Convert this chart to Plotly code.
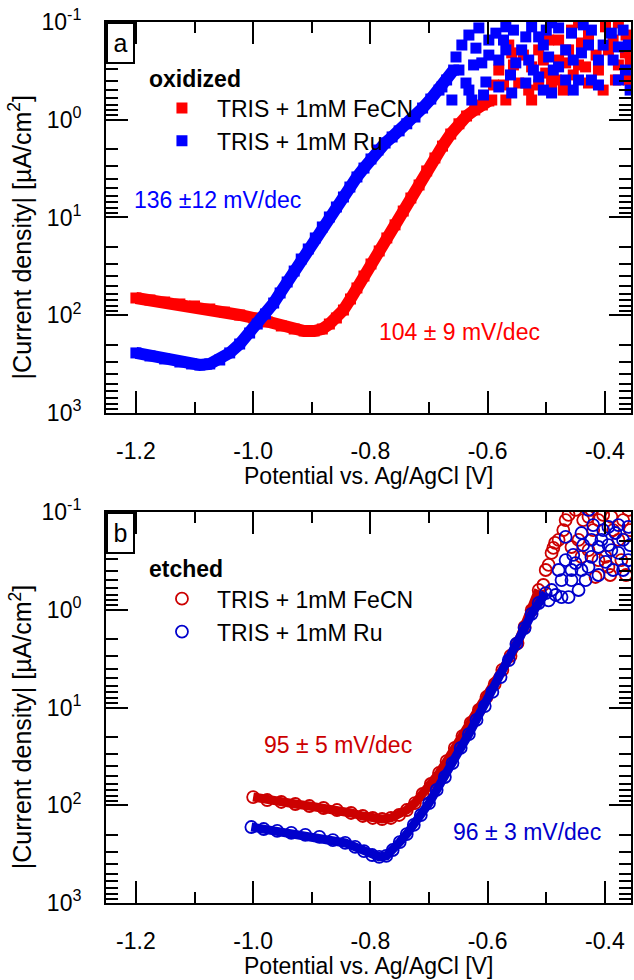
import plotly.graph_objects as go

# ---------------- data ----------------
# panel a: oxidized, smooth part of the sweep
ox_fecn_v = [-1.200, -1.176, -1.151, -1.125, -1.100, -1.074, -1.049, -1.023, -0.999, -0.976,
             -0.952, -0.930, -0.913, -0.896, -0.882, -0.870, -0.858, -0.846, -0.834, -0.823,
             -0.811, -0.799, -0.785, -0.772, -0.758, -0.744, -0.731, -0.717, -0.704, -0.690,
             -0.677, -0.663, -0.649, -0.636, -0.622, -0.609, -0.598]
ox_fecn_j = [66.6, 69.8, 73.2, 76.7, 80.4, 86.3, 92.7, 99.4, 106.7, 117.2,
             128.8, 138.3, 144.9, 144.9, 138.3, 123.0, 106.7, 88.4, 68.2, 52.6,
             39.7, 29.9, 22.0, 16.2, 11.9, 8.59, 6.32, 4.65, 3.34, 2.46,
             1.86, 1.40, 1.10, 0.916, 0.794, 0.706, 0.643]
# panel a: oxidized, noisy high-current part
ox_fecn_hv = [-0.559, -0.525, -0.501, -0.479, -0.457, -0.440, -0.428, -0.411, -0.399, -0.382,
              -0.365, -0.581, -0.569, -0.525, -0.491, -0.445, -0.377, -0.593, -0.547, -0.513,
              -0.433, -0.360, -0.394, -0.467,
              -0.590, -0.573, -0.556, -0.539, -0.530, -0.505, -0.496, -0.483, -0.471, -0.462,
              -0.445, -0.428, -0.415, -0.403, -0.386, -0.377, -0.364, -0.357, -0.454, -0.513,
              -0.564, -0.479]
ox_fecn_hj = [0.207, 0.288, 0.333, 0.153, 0.121, 0.164, 0.421, 0.310, 0.112, 0.392,
              0.207, 0.310, 0.628, 0.628, 0.421, 0.102, 0.102, 0.628, 0.421, 0.193,
              0.288, 0.392, 0.193, 0.262,
              0.441, 0.441, 0.275, 0.218, 0.497, 0.245, 0.153, 0.392, 0.497, 0.193,
              0.275, 0.136, 0.218, 0.497, 0.153, 0.275, 0.136, 0.245, 0.348, 0.441,
              0.172, 0.245]

ox_ru_v = [-1.200, -1.176, -1.151, -1.125, -1.105, -1.091, -1.074, -1.057, -1.040, -1.023,
           -1.006, -0.993, -0.979, -0.965, -0.954, -0.942, -0.930, -0.918, -0.906, -0.894,
           -0.882, -0.870, -0.858, -0.846, -0.835, -0.823, -0.811, -0.799, -0.787, -0.775,
           -0.763, -0.751, -0.738, -0.724, -0.711, -0.697, -0.683, -0.670, -0.658]
ox_ru_j = [243, 261, 280, 301, 315, 323, 315, 287, 243, 197,
           152, 123, 97.1, 75.0, 59.2, 45.7, 35.3, 26.6, 21.0, 16.2,
           12.5, 9.88, 7.81, 6.17, 4.88, 3.85, 3.12, 2.52, 2.04, 1.73,
           1.50, 1.30, 1.10, 0.938, 0.759, 0.614, 0.497, 0.392, 0.310]
ox_ru_hv = [-0.586, -0.569, -0.525, -0.491, -0.620, -0.654, -0.649, -0.610, -0.581, -0.569,
            -0.552, -0.603, -0.581, -0.559, -0.535, -0.513, -0.491, -0.479, -0.467, -0.457,
            -0.440, -0.423, -0.411, -0.389, -0.377, -0.365, -0.445, -0.423, -0.467, -0.496,
            -0.513, -0.637, -0.661, -0.627, -0.678, -0.535,
            -0.644, -0.632, -0.615, -0.598, -0.573, -0.556, -0.542, -0.530, -0.505, -0.500,
            -0.479, -0.454, -0.437, -0.428, -0.403, -0.386, -0.369, -0.360, -0.598, -0.624,
            -0.561, -0.522, -0.488, -0.411, -0.377, -0.357, -0.505, -0.632, -0.607, -0.454]
ox_ru_hj = [0.130, 0.112, 0.112, 0.102, 0.185, 0.228, 0.310, 0.262, 0.245, 0.193,
            0.262, 0.411, 0.462, 0.532, 0.421, 0.365, 0.532, 0.288, 0.193, 0.130,
            0.207, 0.121, 0.245, 0.130, 0.180, 0.310, 0.392, 0.392, 0.392, 0.228,
            0.142, 0.421, 0.628, 0.628, 0.462, 0.142,
            0.172, 0.136, 0.115, 0.153, 0.153, 0.121, 0.193, 0.245, 0.172, 0.121,
            0.115, 0.245, 0.107, 0.172, 0.172, 0.245, 0.121, 0.172, 0.218, 0.275,
            0.348, 0.310, 0.310, 0.441, 0.392, 0.497, 0.497, 0.497, 0.558, 0.497]

# panel b: etched
et_fecn_v = [-1.000, -0.976, -0.952, -0.928, -0.904, -0.880, -0.857, -0.833, -0.813, -0.796,
             -0.780, -0.765, -0.751, -0.738, -0.724, -0.711, -0.697, -0.683, -0.670, -0.656,
             -0.643, -0.629, -0.615, -0.602, -0.588, -0.575, -0.561, -0.549, -0.537, -0.525,
             -0.513]
et_fecn_j = [82.4, 88.4, 92.6, 97.1, 101.8, 106.7, 111.9, 120.0, 128.8, 135.0,
             138.3, 135.0, 125.8, 111.9, 94.9, 76.7, 60.6, 46.8, 35.3, 25.9,
             19.6, 14.4, 10.6, 7.81, 5.75, 4.13, 2.97, 2.19, 1.50, 1.01,
             0.628]
et_fecn_hv = [-0.501, -0.491, -0.479, -0.485, -0.467, -0.450, -0.428, -0.416, -0.399, -0.389,
              -0.377, -0.360, -0.457, -0.423, -0.411, -0.394, -0.372, -0.440,
              -0.505, -0.496, -0.488, -0.471, -0.462, -0.437, -0.420, -0.403, -0.386, -0.369,
              -0.357, -0.411, -0.391, -0.364, -0.445, -0.428]
et_fecn_hj = [0.392, 0.262, 0.193, 0.207, 0.121, 0.095, 0.112, 0.462, 0.288, 0.112,
              0.193, 0.095, 0.228, 0.095, 0.121, 0.365, 0.310, 0.288,
              0.558, 0.348, 0.233, 0.153, 0.107, 0.121, 0.153, 0.107, 0.153, 0.121,
              0.153, 0.310, 0.441, 0.441, 0.193, 0.245]

et_ru_v = [-1.003, -0.982, -0.959, -0.935, -0.911, -0.887, -0.864, -0.843, -0.826, -0.811,
           -0.797, -0.785, -0.773, -0.762, -0.750, -0.738, -0.726, -0.714, -0.700, -0.687,
           -0.673, -0.660, -0.646, -0.632, -0.619, -0.605, -0.592, -0.578, -0.564, -0.551,
           -0.537, -0.525, -0.513, -0.501]
et_ru_j = [167, 175, 183, 192, 201, 211, 227, 243, 267, 294,
           323, 338, 330, 287, 238, 197, 159, 126, 94.9, 69.8,
           51.4, 37.0, 25.9, 18.7, 13.4, 9.66, 6.93, 4.88, 3.27, 2.24,
           1.54, 1.10, 0.853, 0.675]
et_ru_hv = [-0.474, -0.462, -0.491, -0.474, -0.457, -0.467, -0.440, -0.428, -0.423, -0.467,
            -0.440, -0.423, -0.406, -0.394, -0.389, -0.377, -0.369, -0.360, -0.382, -0.428,
            -0.360, -0.450, -0.411, -0.399, -0.433, -0.457,
            -0.496, -0.484, -0.454, -0.437, -0.420, -0.403, -0.377, -0.357, -0.386, -0.411,
            -0.479, -0.445, -0.394, -0.369]
et_ru_hj = [0.742, 0.742, 0.628, 0.497, 0.392, 0.310, 0.392, 0.365, 0.288, 0.180,
            0.164, 0.193, 0.193, 0.142, 0.245, 0.262, 0.392, 0.310, 0.164, 0.095,
            0.142, 0.333, 0.228, 0.324, 0.497, 0.497,
            0.800, 0.706, 0.275, 0.218, 0.136, 0.153, 0.136, 0.218, 0.392, 0.441,
            0.392, 0.628, 0.218, 0.193]

series_names = ["TRIS + 1mM FeCN", "TRIS + 1mM Ru"]
legend_titles = ["oxidized", "etched"]
slope_labels = ["136 ±12 mV/dec", "104 ± 9 mV/dec", "95 ± 5 mV/dec", "96 ± 3 mV/dec"]
y_tickvals = [0.1, 1, 10, 100, 1000]
y_ticktext = ["10<sup>-1</sup>", "10<sup>0</sup>", "10<sup>1</sup>", "10<sup>2</sup>", "10<sup>3</sup>"]
x_tickvals = [-1.2, -1.0, -0.8, -0.6, -0.4]
x_ticktext = ["-1.2", "-1.0", "-0.8", "-0.6", "-0.4"]

# ---------------- style ----------------
FONT = "Liberation Sans, Arial, sans-serif"
RED_A, BLUE_A = "#FF0000", "#0000FF"
RED_B, BLUE_B = "#CC0000", "#0000CC"

fig = go.Figure()

# panel a
fig.add_trace(go.Scatter(x=ox_fecn_v, y=ox_fecn_j, mode="lines+markers", showlegend=False,
                         line=dict(color=RED_A, width=12),
                         marker=dict(symbol="square", size=11, color=RED_A),
                         xaxis="x", yaxis="y"))
fig.add_trace(go.Scatter(x=ox_fecn_hv, y=ox_fecn_hj, mode="markers", name=series_names[0],
                         marker=dict(symbol="square", size=11, color=RED_A),
                         xaxis="x", yaxis="y", legend="legend"))
fig.add_trace(go.Scatter(x=ox_ru_v, y=ox_ru_j, mode="lines+markers", showlegend=False,
                         line=dict(color=BLUE_A, width=12),
                         marker=dict(symbol="square", size=11, color=BLUE_A),
                         xaxis="x", yaxis="y"))
fig.add_trace(go.Scatter(x=ox_ru_hv, y=ox_ru_hj, mode="markers", name=series_names[1],
                         marker=dict(symbol="square", size=11, color=BLUE_A),
                         xaxis="x", yaxis="y", legend="legend"))

# panel b
circ = dict(symbol="circle-open", size=12)
fig.add_trace(go.Scatter(x=et_fecn_v, y=et_fecn_j, mode="lines+markers", showlegend=False,
                         line=dict(color=RED_B, width=9),
                         marker=dict(**circ, color=RED_B, line=dict(width=1.8)),
                         xaxis="x2", yaxis="y2"))
fig.add_trace(go.Scatter(x=et_fecn_hv, y=et_fecn_hj, mode="markers", name=series_names[0],
                         marker=dict(**circ, color=RED_B, line=dict(width=1.8)),
                         xaxis="x2", yaxis="y2", legend="legend2"))
fig.add_trace(go.Scatter(x=et_ru_v, y=et_ru_j, mode="lines+markers", showlegend=False,
                         line=dict(color=BLUE_B, width=9),
                         marker=dict(**circ, color=BLUE_B, line=dict(width=1.8)),
                         xaxis="x2", yaxis="y2"))
fig.add_trace(go.Scatter(x=et_ru_hv, y=et_ru_hj, mode="markers", name=series_names[1],
                         marker=dict(**circ, color=BLUE_B, line=dict(width=1.8)),
                         xaxis="x2", yaxis="y2", legend="legend2"))

minor_y = [m * 10 ** e for e in range(-1, 3) for m in range(2, 10)]

def xaxis_style(anchor):
    return dict(anchor=anchor, domain=[0, 1], range=[-1.251, -0.3555],
                tickmode="array", tickvals=x_tickvals, ticktext=x_ticktext,
                ticks="inside", ticklen=22, tickwidth=2, tickcolor="black",
                showline=True, linewidth=2, linecolor="black", mirror="ticks",
                showgrid=False, zeroline=False, ticklabelstandoff=16,
                minor=dict(dtick=0.1, tick0=-1.1, ticks="inside", ticklen=11,
                           tickwidth=2, tickcolor="black", showgrid=False),
                tickfont=dict(family=FONT, size=23, color="black"))

def yaxis_style(anchor, domain):
    return dict(anchor=anchor, domain=domain, type="log", range=[3, -1],
                tickmode="array", tickvals=y_tickvals, ticktext=y_ticktext,
                ticks="inside", ticklen=22, tickwidth=2, tickcolor="black",
                showline=True, linewidth=2, linecolor="black", mirror="ticks",
                showgrid=False, zeroline=False, ticklabelstandoff=18,
                minor=dict(tickvals=minor_y, ticks="inside", ticklen=12,
                           tickwidth=2, tickcolor="black", showgrid=False),
                tickfont=dict(family=FONT, size=23, color="black"))

leg_common = dict(xanchor="left", yanchor="top", bgcolor="rgba(0,0,0,0)",
                  font=dict(family=FONT, size=23, color="black"),
                  itemwidth=60, tracegroupgap=0)

fig.update_layout(
    width=634, height=980,
    margin=dict(l=106, r=1, t=22, b=77),
    paper_bgcolor="white", plot_bgcolor="white",
    font=dict(family=FONT, size=23, color="black"),
    xaxis=xaxis_style("y"),
    yaxis=yaxis_style("x", [0.5562, 1]),
    xaxis2=xaxis_style("y2"),
    yaxis2=yaxis_style("x2", [0, 0.4438]),
    legend=dict(x=0.078, y=0.9607, title=dict(text="<b>" + legend_titles[0] + "</b>",
                font=dict(family=FONT, size=23, color="black")), **leg_common),
    legend2=dict(x=0.078, y=0.4037, title=dict(text="<b>" + legend_titles[1] + "</b>",
                 font=dict(family=FONT, size=23, color="black")), **leg_common),
)

ann = []
# panel letters in boxes
for letter, xr, yr in [("a", "x domain", "y domain"), ("b", "x2 domain", "y2 domain")]:
    ann.append(dict(text=letter, xref=xr, yref=yr, x=0, y=1, xanchor="left", yanchor="top",
                    showarrow=False, bordercolor="black", borderwidth=2, borderpad=0,
                    bgcolor="white", width=25, height=38,
                    font=dict(family=FONT, size=25, color="black")))
# slope labels
for txt, xr, yr, xx, yy, col in [
        (slope_labels[0], "x domain", "y domain", 0.049, 0.545, BLUE_A),
        (slope_labels[1], "x domain", "y domain", 0.516, 0.207, RED_A),
        (slope_labels[2], "x2 domain", "y2 domain", 0.298, 0.404, RED_B),
        (slope_labels[3], "x2 domain", "y2 domain", 0.658, 0.182, BLUE_B)]:
    ann.append(dict(text=txt, xref=xr, yref=yr, x=xx, y=yy, xanchor="left", yanchor="middle",
                    showarrow=False, font=dict(family=FONT, size=23, color=col)))
# axis titles
for xr, yr in [("x domain", "y domain"), ("x2 domain", "y2 domain")]:
    ann.append(dict(text="Potential vs. Ag/AgCl [V]", xref=xr, yref=yr, x=0.5, y=-0.161,
                    xanchor="center", yanchor="middle", showarrow=False,
                    font=dict(family=FONT, size=23, color="black")))
for yy in [0.756, 0.2]:
    ann.append(dict(text="|Current density| [µA/cm<sup>2</sup>]", xref="paper", yref="paper",
                    x=-0.163, y=yy, xanchor="center", yanchor="middle", textangle=-90,
                    showarrow=False, font=dict(family=FONT, size=25, color="black")))
fig.update_layout(annotations=ann)

fig.write_html("out.html")
